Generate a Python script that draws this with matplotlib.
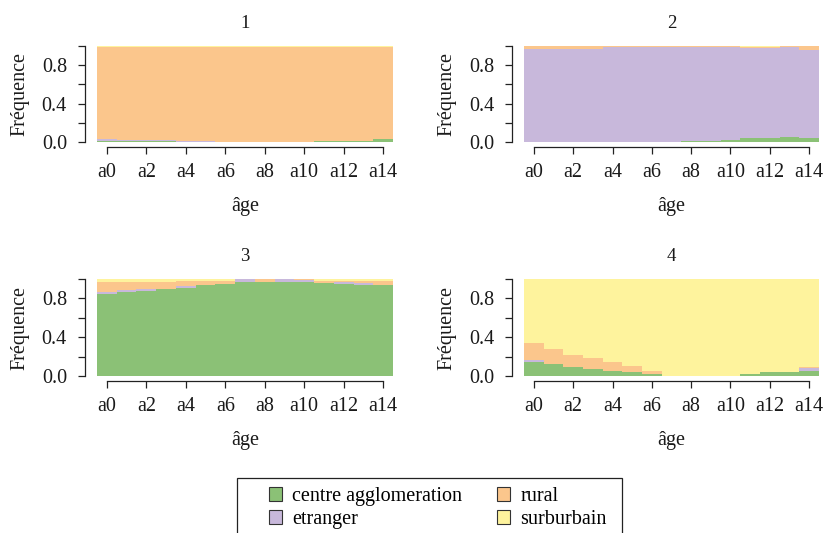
import matplotlib
matplotlib.use("Agg")
import matplotlib.pyplot as plt
from matplotlib.patches import Patch, Rectangle
import numpy as np

plt.rcParams['font.family'] = ['Liberation Serif', 'DejaVu Serif']
plt.rcParams['font.size'] = 14.5

# états et couleurs
etats = ["centre agglomeration", "etranger", "rural", "surburbain"]
couleurs = ["#8bc176", "#c8b8db", "#fbc68c", "#fef39d"]
ages = ["a%d" % i for i in range(15)]

# cluster 1
c1_centre = [0.01, 0.01, 0.01, 0.01, 0, 0, 0, 0, 0, 0, 0, 0.015, 0.015, 0.015, 0.03]
c1_etranger = [0.025, 0.015, 0.015, 0.015, 0.01, 0.01, 0, 0, 0, 0, 0, 0, 0, 0, 0]
c1_rural = [0.955, 0.965, 0.965, 0.965, 0.98, 0.98, 0.99, 0.99, 0.99, 0.99, 0.99, 0.975, 0.975, 0.975, 0.96]
c1_surb = [0.01] * 15

# cluster 2
c2_centre = [0, 0, 0, 0, 0, 0, 0, 0, 0.008, 0.008, 0.02, 0.045, 0.045, 0.052, 0.038]
c2_etranger = [0.965, 0.965, 0.965, 0.965, 0.988, 0.988, 0.988, 0.988, 0.98, 0.98, 0.968, 0.935, 0.935, 0.933, 0.922]
c2_rural = [0.035, 0.035, 0.035, 0.035, 0.012, 0.012, 0.012, 0.012, 0.012, 0.012, 0.012, 0.005, 0.005, 0.015, 0.04]
c2_surb = [0, 0, 0, 0, 0, 0, 0, 0, 0, 0, 0, 0.015, 0.015, 0, 0]

# cluster 3
c3_centre = [0.845, 0.866, 0.876, 0.897, 0.907, 0.938, 0.948, 0.966, 0.973, 0.969, 0.966, 0.962, 0.948, 0.935, 0.935]
c3_etranger = [0.02, 0.02, 0.017, 0, 0.02, 0, 0, 0.031, 0, 0.028, 0.02, 0, 0.02, 0.02, 0]
c3_rural = [0.103, 0.082, 0.076, 0.072, 0.049, 0.038, 0.028, 0, 0.027, 0.003, 0.014, 0.017, 0.011, 0.024, 0.044]
c3_surb = [0.032, 0.032, 0.031, 0.031, 0.024, 0.024, 0.024, 0.003, 0, 0, 0, 0.021, 0.021, 0.021, 0.021]

# cluster 4
c4_centre = [0.148, 0.127, 0.093, 0.076, 0.052, 0.041, 0.021, 0, 0, 0, 0, 0.021, 0.041, 0.041, 0.052]
c4_etranger = [0.017, 0, 0, 0, 0, 0, 0, 0, 0, 0, 0, 0, 0, 0, 0.034]
c4_rural = [0.172, 0.148, 0.127, 0.11, 0.093, 0.062, 0.031, 0, 0, 0, 0, 0, 0, 0, 0.007]
c4_surb = [0.663, 0.725, 0.78, 0.814, 0.855, 0.897, 0.948, 1, 1, 1, 1, 0.979, 0.959, 0.959, 0.907]

clusters = [
    ("1", [c1_centre, c1_etranger, c1_rural, c1_surb]),
    ("2", [c2_centre, c2_etranger, c2_rural, c2_surb]),
    ("3", [c3_centre, c3_etranger, c3_rural, c3_surb]),
    ("4", [c4_centre, c4_etranger, c4_rural, c4_surb]),
]

W, H = 828, 533
fig = plt.figure(figsize=(W / 100, H / 100), dpi=100)

# positions des panneaux en pixels (gauche, haut, droite, bas)
boxes = [(97, 46, 393, 142), (524, 46, 819, 142),
         (97, 279, 393, 376), (524, 279, 819, 376)]

axe_col = "#222222"
for (titre, series), (l, t, r, b) in zip(clusters, boxes):
    ax = fig.add_axes([l / W, 1 - b / H, (r - l) / W, (b - t) / H])
    x = np.arange(len(ages))
    bas = np.zeros(len(ages))
    for vals, col in zip(series, couleurs):
        vals = np.array(vals, dtype=float)
        ax.bar(x, vals, width=1, bottom=bas, align="edge", color=col, linewidth=0)
        bas += vals
    ax.set_xlim(0, 15)
    ax.set_ylim(0, 1)
    for s in ["top", "right"]:
        ax.spines[s].set_visible(False)
    ax.spines["left"].set_position(("outward", 8.6))
    ax.spines["bottom"].set_position(("outward", 3.3))
    ax.spines["left"].set_bounds(0, 1)
    ax.spines["bottom"].set_bounds(0.5, 14.5)
    for s in ["left", "bottom"]:
        ax.spines[s].set_color(axe_col)
        ax.spines[s].set_linewidth(0.9)
    ax.set_xticks(x[::2] + 0.5)
    ax.set_xticklabels(ages[::2])
    ax.set_yticks([0, 0.2, 0.4, 0.6, 0.8, 1.0])
    ax.set_yticklabels(["0.0", "", "0.4", "", "0.8", ""])
    ax.tick_params(length=5, width=0.9, color=axe_col, labelcolor="#1a1a1a")
    ax.tick_params(axis="x", pad=7)
    ax.tick_params(axis="y", pad=8)
    ax.set_title(titre, pad=13, color="#1a1a1a", fontsize=13.5)
    ax.set_ylabel("Fréquence", color="#1a1a1a")
    ax.yaxis.set_label_coords(-0.26, 0.5)
    ax.yaxis.label.set_va("center")
    ax.set_xlabel("âge", color="#1a1a1a")
    ax.xaxis.label.set_va("center")
    ax.xaxis.set_label_coords(0.5, -0.67)

# légende
handles = [Patch(facecolor=c, edgecolor="#333333", linewidth=0.8) for c in couleurs]
fig.legend(handles, etats, loc="upper left", bbox_to_anchor=(269 / W, 1 - 487 / H),
           ncol=2, frameon=False, borderpad=0, borderaxespad=0,
           handlelength=0.65, handleheight=0.65, handletextpad=0.5,
           columnspacing=1.75, labelspacing=0.2)
fig.patches.append(Rectangle((237 / W, -0.05), (622 - 237) / W, 0.05 + 1 - 478 / H,
                             transform=fig.transFigure, fill=False,
                             edgecolor="#222222", linewidth=0.9))

fig.savefig("out.png", dpi=100)
